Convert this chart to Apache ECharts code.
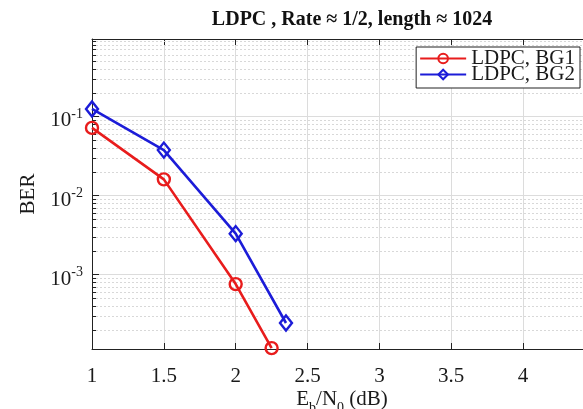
<!DOCTYPE html>
<html><head><meta charset="utf-8">
<script src="https://cdn.jsdelivr.net/npm/echarts@6/dist/echarts.min.js"></script>
<style>html,body{margin:0;padding:0;overflow:hidden;background:#fff}#c{width:583px;height:409px}</style>
</head><body><div id="c"></div>
<script>
const titleText = 'LDPC , Rate \u2248 1/2, length \u2248 1024';
const xAxisTitle = '{b|E}{s|b}{b|/N}{s|0}{b| (dB)}';
const yAxisTitle = 'BER';
const seriesNames = ['LDPC, BG1', 'LDPC, BG2'];
const ebnoBG1 = [1, 1.5, 2, 2.25];
const berBG1 = [0.0715, 0.0160, 0.00076, 0.000118];
const ebnoBG2 = [1, 1.5, 2, 2.35];
const berBG2 = [0.124, 0.0375, 0.0033, 0.000245];
const xMin = 1, xMax = 4.417, xStep = 0.5;
const yMin = 1.15e-4, yMax = 0.95;
const minorMantissas = [2, 3, 4, 5, 6, 7, 8, 9];
const minorDecades = [1e-4, 1e-3, 1e-2, 1e-1];

const minorValues = [];
minorDecades.forEach(d => minorMantissas.forEach(m => {
  const v = m * d;
  if (v > yMin && v < yMax) minorValues.push([xMin, v]);
}));

const serif = '"Liberation Serif", "DejaVu Serif", serif';
const txt = '#1a1a1a';
const isStep = v => Math.abs(v / xStep - Math.round(v / xStep)) < 1e-6;

const chart = echarts.init(document.getElementById('c'));
chart.setOption({
  animation: false,
  backgroundColor: '#fff',
  graphic: [{
    type: 'text', x: 352, y: 20, z: 10,
    style: { text: titleText, fontFamily: serif, fontWeight: 'bold', fontSize: 20, fill: '#111', align: 'center', verticalAlign: 'middle' }
  }, {
    type: 'text', x: 342, y: 405, z: 10,
    style: { text: xAxisTitle, align: 'center', verticalAlign: 'middle', fill: txt, fontFamily: serif, fontSize: 21,
      rich: { b: { fontFamily: serif, fontSize: 21, fill: txt, color: txt, lineHeight: 21, verticalAlign: 'bottom', padding: [0, 0, 6, 0] },
              s: { fontFamily: serif, fontSize: 14, fill: txt, color: txt, lineHeight: 14, verticalAlign: 'bottom' } } }
  }],
  grid: { left: 92, top: 39, right: 0, bottom: 60, show: true, backgroundColor: '#fff', borderWidth: 0,
          containLabel: false, outerBoundsMode: 'none' },
  legend: {
    data: seriesNames, orient: 'vertical', right: 3, top: 47,
    backgroundColor: '#fff', borderColor: '#222', borderWidth: 1, borderRadius: 0,
    padding: [1, 5, 3, 3], itemWidth: 46, itemHeight: 12, itemGap: -5,
    textStyle: { fontFamily: serif, fontSize: 21, lineHeight: 16, color: txt }
  },
  xAxis: [{
    type: 'value', min: xMin, max: xMax, interval: xStep, position: 'bottom',
    axisLine: { show: true, lineStyle: { color: '#222', width: 1 } },
    axisTick: { show: true, inside: true, length: 6, lineStyle: { color: '#222' } },
    splitLine: { show: true, lineStyle: { color: '#dcdcdc', width: 1 } },
    axisLabel: { fontFamily: serif, fontSize: 21, color: txt, margin: 17,
      formatter: v => (isStep(v) ? String(v) : '') }
  }, {
    type: 'value', min: xMin, max: xMax, interval: xStep, position: 'top',
    axisLine: { show: true, lineStyle: { color: '#222', width: 1 } },
    axisTick: { show: true, inside: true, length: 6, lineStyle: { color: '#222' } },
    splitLine: { show: false }, axisLabel: { show: false }
  }],
  yAxis: {
    type: 'log', logBase: 10, min: yMin, max: yMax,
    axisLine: { show: true, lineStyle: { color: '#222', width: 1 } },
    axisTick: { show: true, inside: true, length: 7, lineStyle: { color: '#222' } },
    splitLine: { show: true, lineStyle: { color: '#dcdcdc', width: 1 } },
    axisLabel: {
      margin: 9,
      padding: [9, 0, 0, 0],
      formatter: function (v) {
        const e = Math.log10(v);
        const r = Math.round(e);
        if (Math.abs(e - r) > 1e-6 || r === 0) return '';
        return '{b|10}{s|' + r + '}';
      },
      rich: { b: { fontFamily: serif, fontSize: 21, color: txt, lineHeight: 21, verticalAlign: 'bottom' },
              s: { fontFamily: serif, fontSize: 14, color: txt, lineHeight: 14, verticalAlign: 'bottom', padding: [0, 0, 10, 0] } }
    },
    name: yAxisTitle, nameLocation: 'middle', nameGap: 46,
    nameTextStyle: { fontFamily: serif, fontSize: 21, color: txt }
  },
  series: [{
    type: 'custom', name: 'minor', silent: true, z: 1, clip: false, xAxisIndex: 0,
    data: minorValues,
    renderItem: function (params, api) {
      const p = api.coord([api.value(0), api.value(1)]);
      const cs = params.coordSys;
      const y = Math.round(p[1]) + 0.5;
      return { type: 'group', children: [
        { type: 'line', shape: { x1: cs.x, y1: y, x2: cs.x + cs.width, y2: y }, style: { stroke: '#d8d8d8', lineWidth: 1, lineDash: [2, 2] } },
        { type: 'line', shape: { x1: cs.x, y1: y, x2: cs.x + 4, y2: y }, style: { stroke: '#222', lineWidth: 1 } }
      ] };
    }
  }, {
    type: 'line', name: seriesNames[0], xAxisIndex: 0, z: 3,
    data: ebnoBG1.map((x, i) => [x, berBG1[i]]),
    symbol: 'circle', symbolSize: 12, clip: false,
    lineStyle: { color: '#e81c1c', width: 2.6 },
    itemStyle: { color: 'rgba(255,255,255,0)', borderColor: '#e81c1c', borderWidth: 2.4 }
  }, {
    type: 'line', name: seriesNames[1], xAxisIndex: 0, z: 4,
    data: ebnoBG2.map((x, i) => [x, berBG2[i]]),
    symbol: 'diamond', symbolSize: [12, 15], clip: false,
    lineStyle: { color: '#1c1cd8', width: 2.6 },
    itemStyle: { color: 'rgba(255,255,255,0)', borderColor: '#1c1cd8', borderWidth: 2.4 }
  }]
});
</script></body></html>
